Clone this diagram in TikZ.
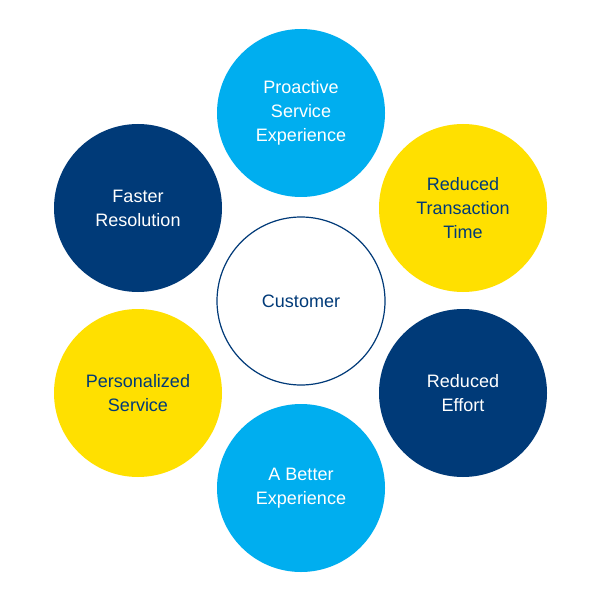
\documentclass[tikz,border=0pt]{standalone}
\usepackage{fontspec}
\setmainfont{Liberation Sans}
\definecolor{lb}{HTML}{00AEEF}
\definecolor{yl}{HTML}{FFE000}
\definecolor{nv}{HTML}{003A78}
\begin{document}
\begin{tikzpicture}[x=1pt,y=-1pt,
  bub/.style={circle,minimum size=168pt,inner sep=0pt,align=center,font=\fontsize{18}{24}\selectfont},
  lbub/.style={bub,fill=lb,text=white},
  ybub/.style={bub,fill=yl,text=nv},
  nbub/.style={bub,fill=nv,text=white}]
\useasboundingbox[fill=white] (0,0) rectangle (601,601);
\node[bub,draw=nv,line width=1.2pt,text=nv,minimum size=168pt] (c) at (301,301) {Customer};
\node[lbub] (p) at (301,113) {Proactive\\Service\\Experience};
\node[ybub] (r) at (463,208) {Reduced\\Transaction\\Time};
\node[nbub] (e) at (463,393) {Reduced\\Effort};
\node[lbub] (b) at (301,488) {A Better\\Experience};
\node[ybub] (s) at (138,393) {Personalized\\Service};
\node[nbub] (f) at (138,208) {Faster\\Resolution};
\end{tikzpicture}
\end{document}
